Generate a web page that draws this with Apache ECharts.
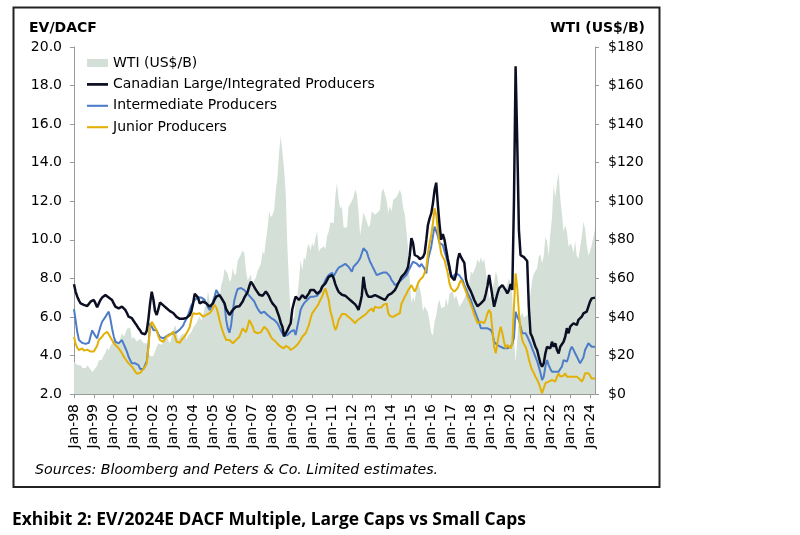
<!DOCTYPE html>
<html><head><meta charset="utf-8">
<script src="https://cdn.jsdelivr.net/npm/echarts@6/dist/echarts.min.js"></script>
<style>html,body{margin:0;padding:0;background:#fff}#c{width:800px;height:535px}</style>
</head><body><div id="c"></div>
<script>
const monthNames = ['Jan','Feb','Mar','Apr','May','Jun','Jul','Aug','Sep','Oct','Nov','Dec'];
const years = ['98','99','00','01','02','03','04','05','06','07','08','09','10','11','12','13','14','15','16','17','18','19','20','21','22','23','24'];
const monthsInLastYear = 4;
const categories = [];
years.forEach((y, k) => {
  const n = k === years.length - 1 ? monthsInLastYear : 12;
  for (let m = 0; m < n; m++) categories.push(monthNames[m] + '-' + y);
});

const seriesNames = ['WTI (US$/B)', 'Canadian Large/Integrated Producers', 'Intermediate Producers', 'Junior Producers'];

const wti = [
16.71,16.06,15.02,15.44,14.86,13.66,14.08,13.36,14.95,14.39,12.85,11.28,
12.47,12.01,14.66,17.34,17.75,17.89,20.07,21.26,23.88,22.64,25.00,26.10,
27.18,29.35,29.89,25.74,28.78,31.83,29.77,31.22,33.88,33.08,34.40,28.46,
29.58,29.61,27.24,27.49,28.63,27.60,26.43,27.37,26.20,22.17,19.64,19.39,
19.72,20.72,24.53,26.18,27.04,25.52,26.97,28.39,29.66,28.84,26.35,29.46,
32.95,35.83,33.51,28.17,28.11,30.66,30.76,31.57,28.31,30.34,31.11,32.13,
34.31,34.69,36.74,36.75,40.28,38.03,40.78,44.90,45.94,53.28,48.47,43.15,
46.84,48.15,54.19,52.98,49.83,56.35,59.00,64.99,65.59,62.26,58.32,59.41,
65.49,61.63,62.69,69.44,70.84,70.95,74.41,73.04,63.80,58.89,59.08,61.96,
54.51,59.28,60.44,63.98,63.46,67.49,74.12,72.36,79.92,85.80,94.77,91.69,
92.97,95.39,105.45,112.58,125.40,133.88,133.37,116.67,104.11,76.61,57.31,41.12,
41.71,39.09,47.94,49.65,59.03,69.64,64.15,71.05,69.41,75.72,77.99,74.47,
78.33,76.39,81.20,84.29,73.74,75.34,76.32,76.60,75.24,81.89,84.25,89.15,
89.17,88.58,102.86,109.53,100.90,96.26,97.30,86.33,85.52,86.32,97.16,98.56,
100.27,102.20,106.16,103.32,94.66,82.30,87.90,94.13,94.51,89.49,86.53,87.86,
94.76,95.31,92.94,92.02,94.51,95.77,104.67,106.57,106.29,100.54,93.86,97.63,
94.62,100.82,100.80,102.07,102.18,105.79,103.59,96.54,93.21,84.40,75.79,59.29,
47.22,50.58,47.82,54.45,59.27,59.82,50.90,42.87,45.48,46.22,42.44,37.19,
31.68,30.32,37.55,40.75,46.71,48.76,44.65,44.72,45.18,49.78,45.66,51.97,
52.50,53.47,49.33,51.06,48.48,45.18,46.63,48.04,49.82,51.58,56.64,57.88,
63.70,62.23,62.73,66.25,69.98,67.87,71.04,68.13,70.23,70.75,56.96,49.52,
51.38,54.95,58.15,63.86,60.83,54.66,57.35,54.81,56.95,53.96,57.03,59.88,
57.52,50.54,29.21,16.55,28.56,38.31,40.71,42.34,39.63,39.40,40.94,47.02,
52.00,59.04,62.33,61.72,65.17,71.38,72.49,67.73,71.65,81.48,79.15,71.71,
83.22,91.64,108.50,101.78,109.55,114.84,101.62,93.67,84.26,87.55,84.37,76.44,
78.12,76.83,73.28,79.45,71.58,70.25,76.07,81.39,89.43,85.64,77.69,71.90,
74.15,77.25,81.28,85.35
];

const largeCaps = [
7.69,7.3,7.05,6.85,6.70,6.66,6.62,6.6,6.56,6.65,6.79,6.85,
6.88,6.7,6.5,6.7,6.88,7.0,7.1,7.13,7.05,7.01,6.95,6.88,
6.7,6.53,6.48,6.44,6.48,6.53,6.45,6.36,6.2,6.01,5.97,5.93,
5.8,5.67,5.55,5.41,5.3,5.15,5.06,5.1,5.28,5.9,6.7,7.31,
6.9,6.3,6.1,6.4,6.75,6.79,6.6,6.53,6.45,6.36,6.3,6.27,
6.2,6.1,6.0,5.93,5.9,5.85,5.9,6.0,5.95,5.93,6.1,6.3,
6.7,7.2,7.25,7.0,6.7,6.75,6.79,6.75,6.7,6.6,6.53,6.6,
6.7,6.9,7.05,7.1,7.13,7.0,6.9,6.7,6.4,6.3,6.1,6.2,
6.36,6.45,6.53,6.53,6.55,6.6,6.8,7.0,7.1,7.3,7.6,7.83,
7.7,7.55,7.4,7.3,7.15,7.05,7.1,7.2,7.31,7.2,7.05,6.85,
6.7,6.6,6.5,6.44,6.01,5.7,5.49,5.0,5.1,5.3,5.5,5.67,
6.4,6.75,7.05,6.95,6.88,7.0,7.13,7.05,6.96,7.1,7.22,7.4,
7.48,7.4,7.31,7.2,7.13,7.35,7.57,7.65,7.74,7.9,8.08,8.12,
8.17,8.0,7.7,7.48,7.3,7.22,7.15,7.13,7.1,7.05,6.95,6.88,
6.8,6.79,6.65,6.53,6.36,6.7,7.1,8.08,7.5,7.2,7.05,7.05,
7.05,7.1,7.13,7.1,7.05,7.0,6.96,6.92,6.88,7.0,7.13,7.18,
7.22,7.3,7.39,7.55,7.74,7.9,8.08,8.17,8.26,8.4,8.6,9.2,
10.08,9.82,9.21,9.15,9.12,9.0,9.0,9.1,9.3,9.99,10.77,11.11,
11.37,11.89,12.58,12.96,11.8,10.8,10.0,10.3,10.0,9.5,9.0,8.6,
8.1,8.0,7.91,8.2,8.95,9.3,9.1,8.95,8.8,7.95,7.65,7.55,
7.31,7.1,6.88,6.7,6.55,6.6,6.7,6.8,6.88,7.2,7.6,8.17,
8.08,7.05,6.53,6.62,7.2,7.48,7.39,7.65,7.57,7.39,7.22,7.39,
7.7,7.4,12.0,19.0,15.0,10.5,9.2,9.15,9.1,9.05,8.9,6.5,
5.15,4.97,4.71,4.45,4.28,3.93,3.59,3.42,3.59,4.11,4.45,4.54,
4.37,4.71,4.45,4.63,4.28,4.11,4.45,4.54,4.71,4.97,5.41,5.15,
5.49,5.58,5.67,5.67,5.58,5.84,5.75,6.01,6.18,6.27,6.27,6.53,
6.79,6.96,6.9,7.0
];

const intermediate = [
6.4,5.8,5.2,4.8,4.7,4.65,4.63,4.6,4.65,4.66,5.0,5.3,
5.2,5.0,4.89,5.2,5.5,5.75,5.85,6.0,6.15,6.27,5.9,5.41,
5.0,4.71,4.65,4.63,4.7,4.8,4.6,4.4,4.2,3.93,3.75,3.59,
3.59,3.59,3.55,3.5,3.3,3.24,3.3,3.35,3.7,4.5,5.67,5.5,
5.32,5.25,5.3,5.1,4.95,4.9,4.89,4.95,5.0,5.06,5.1,5.12,
5.15,5.15,5.2,5.3,5.35,5.41,5.55,5.75,5.9,6.1,6.35,6.6,
6.75,6.88,6.95,7.0,7.05,7.0,6.95,6.88,6.7,6.5,6.36,6.5,
6.8,7.05,7.4,7.3,7.1,6.96,6.85,6.7,5.84,5.4,5.18,5.58,
6.3,6.88,7.2,7.45,7.53,7.5,7.45,7.39,7.31,7.2,7.1,7.0,
6.96,6.8,6.6,6.44,6.3,6.19,6.25,6.27,6.2,6.1,6.0,5.95,
5.93,5.85,5.75,5.67,5.5,5.3,5.23,5.0,5.0,5.06,5.15,5.23,
5.3,5.32,5.06,5.49,5.9,6.36,6.55,6.70,6.8,6.88,6.95,7.05,
7.05,7.05,7.05,7.1,7.13,7.3,7.48,7.7,7.91,8.05,8.17,8.25,
8.29,8.1,8.2,8.43,8.55,8.6,8.65,8.69,8.75,8.78,8.6,8.52,
8.34,8.6,8.7,8.78,8.9,9.04,9.3,9.56,9.5,9.38,9.1,8.86,
8.7,8.52,8.35,8.17,8.2,8.24,8.26,8.3,8.34,8.3,8.26,8.1,
7.91,7.8,7.65,7.7,7.74,7.85,7.95,8.0,8.1,8.17,8.35,8.52,
8.7,8.86,8.82,8.78,8.7,8.6,8.75,8.78,8.5,8.26,8.95,9.3,
9.64,10.2,10.68,10.6,10.2,9.82,9.8,9.73,9.4,9.12,8.8,8.43,
8.2,8.08,8.15,8.26,8.2,8.15,8.08,7.9,7.65,7.45,7.22,7.05,
6.88,6.6,6.36,6.15,5.93,5.7,5.41,5.41,5.41,5.41,5.41,5.35,
5.32,5.15,4.7,4.63,4.54,4.5,4.45,4.4,4.37,4.37,4.37,4.4,
4.45,4.6,4.9,6.27,6.0,5.84,5.5,5.15,5.15,5.15,5.0,4.8,
4.6,4.37,4.15,3.93,3.7,3.42,3.1,2.73,2.9,3.42,3.76,3.5,
3.3,3.16,3.16,3.16,3.07,3.16,3.3,3.42,3.76,3.7,3.68,3.93,
4.28,4.45,4.3,4.11,3.95,3.76,3.59,3.68,3.9,4.28,4.45,4.63,
4.55,4.45,4.5,4.45
];

const junior = [
4.97,4.6,4.4,4.28,4.3,4.37,4.25,4.19,4.3,4.37,4.2,4.11,
4.2,4.28,4.5,4.80,4.9,4.97,5.1,5.2,5.23,5.1,4.95,4.80,
4.65,4.54,4.45,4.37,4.25,4.11,3.95,3.85,3.7,3.59,3.5,3.42,
3.3,3.16,3.05,2.99,3.1,3.16,3.3,3.42,3.59,4.45,5.49,5.75,
5.6,5.45,5.3,5.0,4.8,4.75,4.71,4.85,4.97,5.0,5.06,5.15,
5.23,5.0,4.71,4.68,4.66,4.8,4.89,5.0,5.15,5.3,5.49,5.9,
6.19,6.27,6.15,6.05,6.19,6.1,6.01,6.05,6.10,6.15,6.19,6.3,
6.44,6.62,6.5,6.2,5.84,5.5,5.23,5.0,4.80,4.8,4.8,4.7,
4.63,4.7,4.80,4.9,4.97,5.2,5.4,5.3,5.2,5.5,5.84,5.84,
5.5,5.23,5.2,5.15,5.15,5.2,5.3,5.49,5.4,5.32,5.15,4.97,
4.85,4.75,4.71,4.6,4.54,4.45,4.4,4.37,4.5,4.54,4.4,4.28,
4.37,4.4,4.45,4.55,4.63,4.8,4.97,5.05,5.15,5.35,5.58,5.9,
6.19,6.3,6.44,6.55,6.70,6.9,7.05,7.3,7.48,7.39,6.88,6.3,
6.01,5.6,5.32,5.5,5.84,6.0,6.15,6.19,6.15,6.10,6.0,5.93,
5.85,5.75,5.67,5.8,5.85,5.93,6.0,6.05,6.1,6.19,6.3,6.4,
6.44,6.27,6.53,6.5,6.47,6.44,6.5,6.62,6.66,6.70,6.19,6.05,
5.98,6.0,6.05,6.10,6.12,6.19,6.70,6.85,7.05,7.2,7.39,7.5,
7.65,7.48,7.31,7.5,7.74,7.9,8.0,8.08,8.17,8.5,9.30,9.82,
10.25,10.85,11.63,11.3,10.51,9.82,9.30,9.1,8.95,8.6,8.26,7.74,
7.48,7.4,7.31,7.22,7.5,7.74,7.91,7.75,7.65,7.3,7.05,6.85,
6.62,6.4,6.10,5.9,5.67,5.6,5.75,5.84,5.67,5.9,6.19,6.36,
6.19,5.32,4.45,4.11,4.63,5.15,5.49,5.15,4.71,4.37,4.54,4.45,
4.37,4.6,6.5,8.26,7.5,6.2,5.3,4.8,4.6,4.45,4.2,3.8,
3.5,3.24,3.1,2.9,2.75,2.56,2.3,2.04,2.3,2.56,2.6,2.64,
2.7,2.73,2.7,2.64,2.9,3.07,2.9,2.81,2.95,3.07,2.9,2.81,
2.9,2.9,2.9,2.9,2.9,2.81,2.75,2.64,2.8,3.07,3.07,3.07,
2.95,2.81,2.85,2.8
];

const FONT = '"DejaVu Sans", sans-serif';
const lineIcon = 'path://M0,0L20,0L20,2L0,2Z';
const thickLineIcon = 'path://M0,0L20,0L20,2.6L0,2.6Z';
const chart = echarts.init(document.getElementById('c'), null, {renderer: 'canvas'});
chart.setOption({
  animation: false,
  backgroundColor: '#ffffff',
  grid: {left: 74, right: 205, top: 47, bottom: 141, containLabel: false},
  legend: {
    orient: 'vertical', left: 82, top: 51, padding: 5, itemGap: 7.4, itemWidth: 21, itemHeight: 8,
    selectedMode: false, symbolKeepAspect: true,
    textStyle: {fontFamily: FONT, fontSize: 14, color: '#000'},
    data: [
      {name: seriesNames[0], icon: 'rect'},
      {name: seriesNames[1], icon: thickLineIcon},
      {name: seriesNames[2], icon: lineIcon},
      {name: seriesNames[3], icon: lineIcon}
    ]
  },
  xAxis: {
    type: 'category', data: categories, boundaryGap: false,
    axisLine: {lineStyle: {color: '#9a9a9a', width: 1}},
    axisTick: {interval: 11, length: 4, lineStyle: {color: '#9a9a9a'}},
    axisLabel: {interval: 11, rotate: 90, margin: 10, fontFamily: FONT, fontSize: 14, color: '#000'},
    splitLine: {show: false}
  },
  yAxis: [
    {
      type: 'value', min: 2, max: 20, interval: 2, position: 'left',
      axisLine: {show: true, lineStyle: {color: '#9a9a9a'}},
      axisTick: {show: true, length: 4, lineStyle: {color: '#9a9a9a'}},
      axisLabel: {margin: 12, fontFamily: FONT, fontSize: 14, color: '#000', formatter: v => v.toFixed(1)},
      splitLine: {show: false}
    },
    {
      type: 'value', min: 0, max: 180, interval: 20, position: 'right',
      axisLine: {show: true, lineStyle: {color: '#9a9a9a'}},
      axisTick: {show: true, length: 4, lineStyle: {color: '#9a9a9a'}},
      axisLabel: {margin: 13, fontFamily: FONT, fontSize: 14, color: '#000', formatter: v => '$' + v},
      splitLine: {show: false}
    }
  ],
  series: [
    {
      name: seriesNames[0], type: 'line', yAxisIndex: 1, data: wti,
      symbol: 'none', color: '#d4e0d7',
      lineStyle: {width: 0, color: '#d4e0d7'},
      areaStyle: {color: '#d4e0d7', opacity: 1},
      z: 1
    },
    {
      name: seriesNames[2], type: 'line', yAxisIndex: 0, data: intermediate,
      symbol: 'none', color: '#4d7cc9', lineStyle: {width: 2, color: '#4d7cc9'}, z: 2
    },
    {
      name: seriesNames[3], type: 'line', yAxisIndex: 0, data: junior,
      symbol: 'none', color: '#e2b007', lineStyle: {width: 2, color: '#e2b007'}, z: 3
    },
    {
      name: seriesNames[1], type: 'line', yAxisIndex: 0, data: largeCaps,
      symbol: 'none', color: '#0c0f24', lineStyle: {width: 2.5, color: '#0c0f24'}, z: 4
    }
  ],
  graphic: [
    {type: 'rect', shape: {x: 13.5, y: 7.5, width: 646, height: 479.5},
     style: {fill: 'none', stroke: '#222', lineWidth: 2}, silent: true},
    {type: 'text', x: 29, y: 28,
     style: {text: 'EV/DACF', font: 'bold 14px "DejaVu Sans"', fill: '#000', align: 'left', verticalAlign: 'middle', textAlign: 'left', textVerticalAlign: 'middle'}},
    {type: 'text', x: 645, y: 28,
     style: {text: 'WTI (US$/B)', font: 'bold 14px "DejaVu Sans"', fill: '#000', align: 'right', verticalAlign: 'middle', textAlign: 'right', textVerticalAlign: 'middle'}},
    {type: 'text', x: 35, y: 470,
     style: {text: 'Sources: Bloomberg and Peters & Co. Limited estimates.', font: 'italic 14.2px "DejaVu Sans"', fill: '#000', align: 'left', verticalAlign: 'middle', textAlign: 'left', textVerticalAlign: 'middle'}},
    {type: 'text', x: 12, y: 520,
     style: {text: 'Exhibit 2: EV/2024E DACF Multiple, Large Caps vs Small Caps', font: 'bold 17.4px "Open Sans"', fill: '#000', align: 'left', verticalAlign: 'middle', textAlign: 'left', textVerticalAlign: 'middle'}}
  ]
});
</script>
</body></html>
